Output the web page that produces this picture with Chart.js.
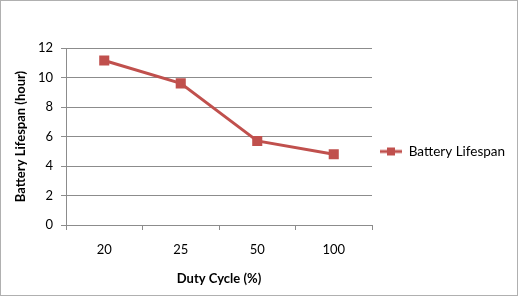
<!DOCTYPE html>
<html>
<head>
<meta charset="utf-8">
<script src="https://cdn.jsdelivr.net/npm/chart.js@4"></script>
<style>
  html, body { margin: 0; padding: 0; background: #fff; }
  #wrap { position: absolute; left: 0; top: 0; width: 518px; height: 296px; box-sizing: border-box; border: 1px solid #b0b0b0; }
</style>
</head>
<body>
<div id="wrap"><canvas id="lifeChart"></canvas></div>
<script>
const categories = ['20', '25', '50', '100'];
const lifespan = [11.15, 9.6, 5.7, 4.8];
const yTicks = [0, 2, 4, 6, 8, 10, 12];

const red = '#C0504D';
const gridGray = '#8c8c8c';

// legend marker: short line with a square on it
const marker = document.createElement('canvas');
marker.width = 22; marker.height = 10;
const m = marker.getContext('2d');
m.strokeStyle = red; m.lineWidth = 3;
m.beginPath(); m.moveTo(0, 5); m.lineTo(22, 5); m.stroke();
m.fillStyle = red; m.fillRect(7, 1, 8, 8);

// the layout caps a side legend at a quarter of the width; give it a fixed one,
// and lift it a bit so it sits level with the middle of the plot
const legendWidth = {
    id: 'legendWidth',
    beforeLayout(chart) {
        const lg = chart.legend;
        if (lg && !lg._fixed) {
            const fit = lg.fit.bind(lg);
            lg.fit = function() { fit(); this.width = 143; };
            lg._fixed = true;
        }
    },
    afterLayout(chart) {
        const lg = chart.legend;
        lg.top -= 18;
        lg.bottom -= 18;
    }
};

Chart.defaults.font.family = 'Lato, "Open Sans", sans-serif';
Chart.defaults.color = '#000';

new Chart(document.getElementById('lifeChart'), {
    type: 'line',
    data: {
        labels: categories,
        datasets: [{
            label: 'Battery Lifespan',
            data: lifespan,
            borderColor: red,
            backgroundColor: red,
            borderWidth: 3,
            pointStyle: 'rect',
            pointRadius: 5,
            pointHoverRadius: 5,
            tension: 0,
            fill: false
        }]
    },
    options: {
        responsive: true,
        maintainAspectRatio: false,
        animation: false,
        layout: { padding: { top: 47, left: 8, right: 2, bottom: 4 } },
        plugins: {
            tooltip: { enabled: false },
            legend: {
                position: 'right',
                labels: {
                    usePointStyle: true,
                    pointStyle: marker,
                    pointStyleWidth: 22,
                    font: { size: 13.5 },
                    color: '#000',
                    padding: 8
                }
            }
        },
        scales: {
            x: {
                offset: true,
                afterFit: s => { s.height = 66; },
                grid: { display: true, drawOnChartArea: false, offset: true, color: gridGray, tickLength: 5 },
                border: { color: gridGray },
                ticks: { padding: 12, font: { size: 13 }, color: '#000' },
                title: { display: true, text: 'Duty Cycle (%)', font: { size: 13, weight: 'bold' }, color: '#000', padding: { top: 6 } }
            },
            y: {
                min: 0,
                max: 12,
                afterFit: s => { s.width = 57; },
                afterBuildTicks: s => { s.ticks = yTicks.map(v => ({ value: v })); },
                grid: { color: gridGray, tickLength: 5 },
                border: { color: gridGray },
                ticks: { padding: 8, font: { size: 13 }, color: '#000' },
                title: { display: true, text: 'Battery Lifespan (hour)', font: { size: 13, weight: 'bold' }, color: '#000', padding: { bottom: 2 } }
            }
        }
    },
    plugins: [legendWidth]
});
</script>
</body>
</html>
